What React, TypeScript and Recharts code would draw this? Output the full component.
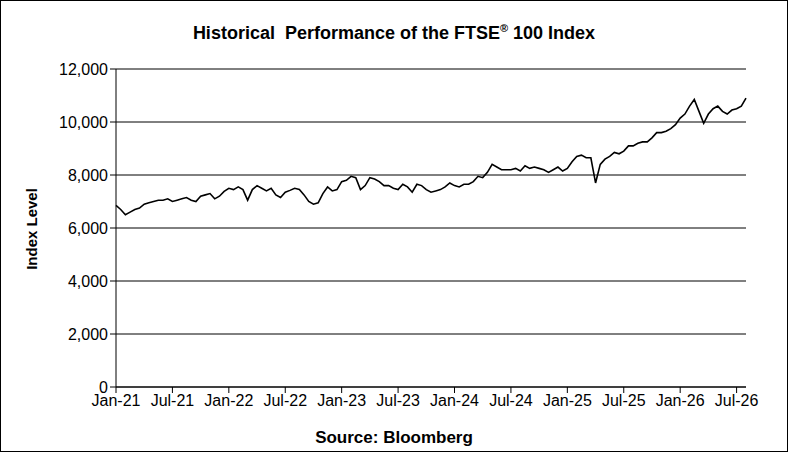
import React from "react";
import { LineChart, Line, XAxis, YAxis, CartesianGrid } from "recharts";

// semi-monthly index levels, Jan-21 .. Aug-26
const levels: number[] = [
  6850, 6700, 6500, 6600, 6700, 6750, 6900, 6950, 7000, 7050, 7050, 7100,
  7000, 7050, 7100, 7150, 7050, 7000, 7200, 7250, 7300, 7100, 7200, 7380,
  7500, 7450, 7550, 7450, 7050, 7450, 7600, 7500, 7400, 7500, 7250, 7150,
  7350, 7420, 7500, 7450, 7250, 7000, 6900, 6950, 7300, 7550, 7400, 7450,
  7750, 7800, 7950, 7900, 7450, 7600, 7900, 7850, 7750, 7600, 7600, 7500,
  7450, 7650, 7550, 7350, 7650, 7600, 7450, 7350, 7400, 7450, 7550, 7700,
  7600, 7550, 7650, 7650, 7750, 7950, 7900, 8100, 8400, 8300, 8200, 8200,
  8200, 8250, 8150, 8350, 8250, 8300, 8250, 8200, 8100, 8200, 8300, 8150,
  8250, 8500, 8700, 8750, 8650, 8650, 7700, 8400, 8600, 8700, 8850, 8800,
  8900, 9100, 9100, 9200, 9250, 9250, 9400, 9600, 9600, 9650, 9750, 9900,
  10150, 10300, 10600, 10850, 10400, 9950, 10300, 10500, 10600, 10400, 10300, 10450,
  10500, 10600, 10900,
];

const tickLabels = ["Jan-21", "Jul-21", "Jan-22", "Jul-22", "Jan-23", "Jul-23", "Jan-24", "Jul-24", "Jan-25", "Jul-25", "Jan-26", "Jul-26"];
const xTicks = tickLabels.map((_, i) => i * 12);
const yTicks = [0, 2000, 4000, 6000, 8000, 10000, 12000];

const data = levels.map((v, i) => ({ t: i, v }));

const font = "Arial, 'Liberation Sans', sans-serif";

export default function App() {
  return (
    <div style={{ position: "absolute", left: 0, top: 0, width: 788, height: 452, border: "1px solid #000", boxSizing: "border-box", background: "#fff", fontFamily: font }}>
      <div style={{ position: "absolute", top: 21, width: "100%", textAlign: "center", fontWeight: "bold", fontSize: 18 }}>
        Historical&nbsp; Performance of the FTSE<sup style={{ fontSize: 11 }}>®</sup> 100 Index
      </div>
      <div style={{ position: "absolute", left: 20, top: 228, transform: "translate(-50%,-50%) rotate(-90deg)", transformOrigin: "center", fontWeight: "bold", fontSize: 15, whiteSpace: "nowrap", marginLeft: 10 }}>
        Index Level
      </div>
      <div style={{ position: "absolute", top: 427, width: "100%", textAlign: "center", fontWeight: "bold", fontSize: 17 }}>
        Source: Bloomberg
      </div>
      <LineChart width={786} height={450} data={data} margin={{ top: 68, right: 41, left: 55, bottom: 38 }}>
        <CartesianGrid vertical={false} stroke="#000" strokeWidth={1} />
        <XAxis dataKey="t" type="number" domain={[0, 134]} ticks={xTicks} tickFormatter={(t) => tickLabels[t / 12]}
          interval={0} stroke="#000" tick={{ fill: "#000", fontSize: 16, fontFamily: font }} tickSize={6} height={26} />
        <YAxis domain={[0, 12000]} ticks={yTicks} tickFormatter={(v) => v.toLocaleString("en-US")}
          stroke="#000" tick={{ fill: "#000", fontSize: 16, fontFamily: font }} width={60} tickSize={6} />
        <Line dataKey="v" stroke="#000" strokeWidth={1.6} dot={false} isAnimationActive={false} />
      </LineChart>
    </div>
  );
}
